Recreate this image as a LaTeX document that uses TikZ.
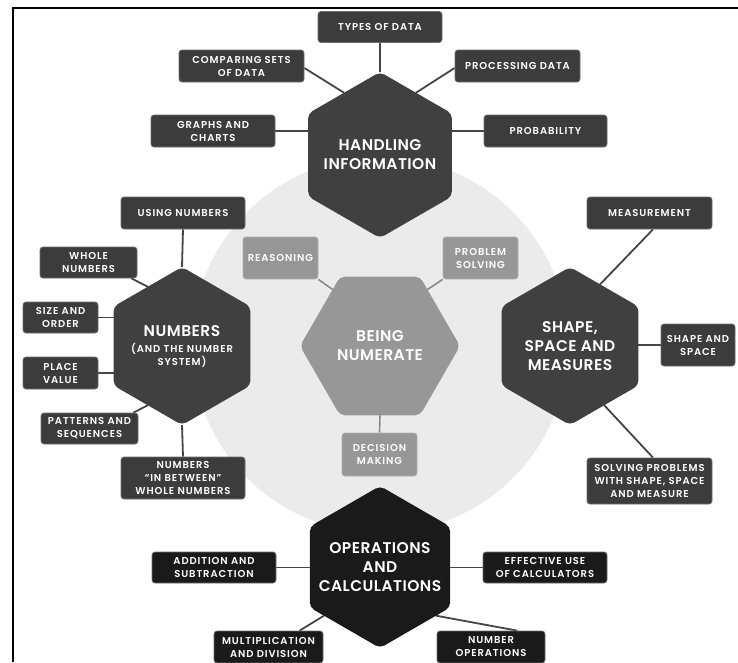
\documentclass[tikz,border=0pt]{standalone}
\usepackage{fontspec}
\setmainfont{Poppins}
\newfontfamily\hexfont[LetterSpace=3]{Poppins SemiBold}
\newfontfamily\boxfont[LetterSpace=9]{Poppins SemiBold}
\newcommand{\subf}{\boxfont\fontsize{10}{13}\selectfont}
\usetikzlibrary{shapes.geometric}
\definecolor{hexdark}{HTML}{404040}
\definecolor{boxdark}{HTML}{3C3C3C}
\definecolor{boxedge}{HTML}{6E6E6E}
\definecolor{opsdark}{HTML}{1A1A1A}
\definecolor{bnfill}{HTML}{979797}
\definecolor{bnedge}{HTML}{B0B0B0}
\definecolor{circ}{HTML}{EBEBEB}
\definecolor{linedark}{HTML}{454545}
\definecolor{linelight}{HTML}{8A8A8A}
\pgfdeclarelayer{bg}
\pgfdeclarelayer{conn}
\pgfsetlayers{bg,conn,main}
\tikzset{
  hexbase/.style={regular polygon, regular polygon sides=6, inner sep=-22pt, outer sep=0pt,
    rounded corners=5pt, text=white, align=center, font=\hexfont\fontsize{15.5}{19}\selectfont},
  hexup/.style={hexbase, shape border rotate=30, fill=hexdark, minimum size=#1},
  hexops/.style={hexbase, shape border rotate=30, fill=opsdark, minimum size=#1},
  hexflat/.style={hexbase, fill=bnfill, minimum size=#1},
  bx/.style 2 args={rectangle, rounded corners=3pt, fill=boxdark, draw=boxedge, line width=0.7pt,
    text=white, align=center, inner sep=1pt, font=\boxfont\fontsize{10}{13}\selectfont,
    minimum width=#1, minimum height=#2},
  bxops/.style 2 args={bx={#1}{#2}, fill=opsdark, draw=boxedge},
  bxlight/.style 2 args={bx={#1}{#2}, fill=bnfill, draw=bnedge},
  link/.style={draw=linedark, line width=1.8pt},
  linklight/.style={draw=linelight, line width=1.6pt},
}
\begin{document}
\begin{tikzpicture}[x=1pt,y=-1pt]
\begin{pgfonlayer}{bg}
\fill[white] (0,0) rectangle (738,662);
\fill[circ] (380,345) circle (188pt);
\end{pgfonlayer}
\useasboundingbox (0,0) rectangle (738,662);
\draw[line width=2pt, black] (12.5,662) -- (12.5,7.5) -- (738,7.5);

% hexagons
\node[hexup=166pt] (hi) at (380,155) {HANDLING\\INFORMATION};
\node[hexup=158pt] (num) at (182,346) {NUMBERS\\[-3pt]{\subf (AND THE NUMBER}\\[-6pt]{\subf SYSTEM)}};
\node[hexflat=160pt] (bn) at (380,346) {BEING\\NUMERATE};
\node[hexup=158pt] (ssm) at (570,346) {SHAPE,\\SPACE AND\\MEASURES};
\node[hexops=162pt] (ops) at (380,567) {OPERATIONS\\AND\\CALCULATIONS};

% handling information boxes
\node[bx={124pt}{31pt}] (types) at (380,27) {TYPES OF DATA};
\node[bx={125pt}{32pt}] (cmp) at (241.5,66) {COMPARING SETS\\OF DATA};
\node[bx={125pt}{32pt}] (proc) at (517.5,66) {PROCESSING DATA};
\node[bx={124pt}{32pt}] (graphs) at (213,131) {GRAPHS AND\\CHARTS};
\node[bx={123pt}{32pt}] (prob) at (545.5,131) {PROBABILITY};

% numbers boxes
\node[bx={124pt}{32pt}] (using) at (183,213) {USING NUMBERS};
\node[bx={97pt}{31pt}] (whole) at (88.5,262.5) {WHOLE\\NUMBERS};
\node[bx={75pt}{31pt}] (size) at (60.5,317.5) {SIZE AND\\ORDER};
\node[bx={75pt}{32pt}] (place) at (60.5,373) {PLACE\\VALUE};
\node[bx={97pt}{31pt}] (patterns) at (89.5,428.5) {PATTERNS AND\\SEQUENCES};
\node[bx={124pt}{42pt}] (between) at (183,478) {NUMBERS\\“IN BETWEEN”\\WHOLE NUMBERS};

% being numerate boxes
\node[bxlight={75pt}{42pt}] (reason) at (280.5,258) {REASONING};
\node[bxlight={75pt}{42pt}] (problem) at (480.5,258) {PROBLEM\\SOLVING};
\node[bxlight={75pt}{43pt}] (decision) at (379.5,454.5) {DECISION\\MAKING};

% shape boxes
\node[bx={125pt}{32pt}] (meas) at (649.5,213) {MEASUREMENT};
\node[bx={74pt}{42pt}] (sas) at (698,345) {SHAPE AND\\SPACE};
\node[bx={125pt}{46pt}] (solving) at (649.5,481) {SOLVING PROBLEMS\\WITH SHAPE, SPACE\\AND MEASURE};

% operations boxes
\node[bxops={124pt}{31pt}] (add) at (214,567.5) {ADDITION AND\\SUBTRACTION};
\node[bxops={124pt}{31pt}] (eff) at (545,567.5) {EFFECTIVE USE\\OF CALCULATORS};
\node[bxops={109pt}{32pt}] (mult) at (268.5,647) {MULTIPLICATION\\AND DIVISION};
\node[bxops={108pt}{32pt}] (numops) at (491,647) {NUMBER\\OPERATIONS};

\begin{pgfonlayer}{conn}
\draw[link] (types.south) -- (hi.90);
\draw[link] ([yshift=-2pt]cmp.east) -- (hi.120);
\draw[link] ([yshift=-2pt]proc.west) -- (hi.60);
\draw[link] (graphs.east) -- (graphs.east -| hi.center);
\draw[link] (prob.west) -- (prob.west -| hi.center);

\draw[link] (using.south) -- (num.90);
\draw[link] ([xshift=-6pt]whole.south east) -- (num.120);
\draw[link] (size.east) -- (size.east -| num.center);
\draw[link] (place.east) -- (place.east -| num.center);
\draw[link] ([xshift=-5pt]patterns.north east) -- (num.240);
\draw[link] (between.north) -- (num.270);

\draw[linklight] (reason.south east) -- (bn.130);
\draw[linklight] (problem.south west) -- (bn.50);
\draw[linklight] (decision.north) -- (bn.270);

\draw[link] ([xshift=3.5pt]meas.south) -- (ssm.64);
\draw[link] (sas.west) -- (sas.west -| ssm.center);
\draw[link] ([xshift=3.5pt]solving.north) -- (ssm.-60);

\draw[link] (add.east) -- (add.east -| ops.center);
\draw[link] (eff.west) -- (eff.west -| ops.center);
\draw[link] ([xshift=31pt]mult.north) -- (ops.221);
\draw[link] ([xshift=-28pt]numops.north east) -- (ops.319);
\end{pgfonlayer}
\end{tikzpicture}
\end{document}
